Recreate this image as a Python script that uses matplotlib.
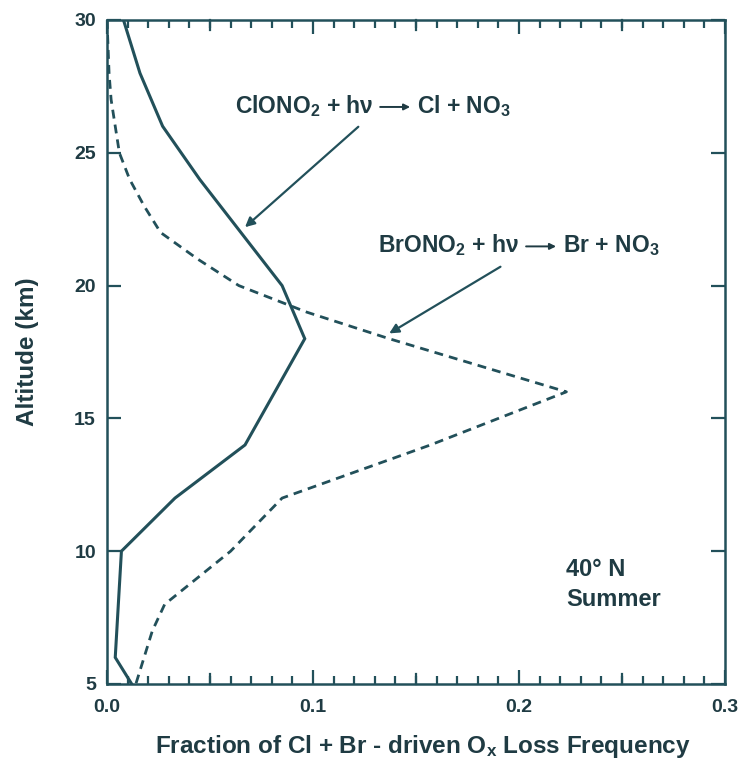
import matplotlib
matplotlib.use("Agg")
import matplotlib.pyplot as plt
from matplotlib.ticker import MultipleLocator

# ClONO2 photolysis contribution (solid)
alt_clono2 = [30, 28, 26, 24, 22, 20, 18, 14, 12, 10, 6, 5]
frac_clono2 = [0.008, 0.016, 0.027, 0.045, 0.065, 0.085, 0.096, 0.067, 0.033, 0.007, 0.004, 0.012]

# BrONO2 photolysis contribution (dashed)
alt_brono2 = [30, 28, 27, 26, 25, 24, 23, 22, 21, 20, 19, 18, 16, 14, 12, 10, 8, 7, 6, 5]
frac_brono2 = [0.0, 0.001, 0.002, 0.004, 0.006, 0.011, 0.018, 0.026, 0.044, 0.064, 0.097, 0.137,
               0.223, 0.157, 0.085, 0.060, 0.028, 0.022, 0.018, 0.014]

x_ticks = [0.0, 0.1, 0.2, 0.3]
x_ticklabels = ["0.0", "0.1", "0.2", "0.3"]
y_ticks = [5, 10, 15, 20, 25, 30]
y_ticklabels = ["5", "10", "15", "20", "25", "30"]

ink = "#22505a"
text_ink = "#1f3b43"
fam = ["Liberation Sans", "DejaVu Sans"]

plt.rcParams["font.family"] = fam
plt.rcParams["font.weight"] = "bold"
plt.rcParams["mathtext.fontset"] = "custom"
plt.rcParams["mathtext.rm"] = "Liberation Sans:bold"
plt.rcParams["mathtext.bf"] = "Liberation Sans:bold"
plt.rcParams["mathtext.it"] = "Liberation Sans:bold"
plt.rcParams["mathtext.default"] = "rm"

fig = plt.figure(figsize=(7.54, 7.65), dpi=100)
ax = fig.add_axes([107 / 754, 1 - 684 / 765, 618 / 754, 664 / 765])

ax.plot(frac_clono2, alt_clono2, color=ink, lw=2.2, solid_joinstyle="miter")
ax.plot(frac_brono2, alt_brono2, color=ink, lw=2.0, dashes=(3.2, 2.2))

ax.set_xlim(0, 0.3)
ax.set_ylim(5, 30)

for s in ax.spines.values():
    s.set_linewidth(1.8)
    s.set_color(ink)

ax.set_xticks(x_ticks)
ax.set_xticklabels(x_ticklabels)
ax.set_yticks(y_ticks)
ax.set_yticklabels(y_ticklabels)
ax.xaxis.set_minor_locator(MultipleLocator(0.01))

ax.tick_params(axis="both", which="both", direction="in", color=ink,
               top=True, right=True, labelcolor=text_ink)
ax.tick_params(axis="x", which="major", length=10, width=1.6, pad=11, labelsize=14)
ax.tick_params(axis="x", which="minor", length=6, width=1.6)
ax.tick_params(axis="y", which="major", length=10, width=1.6, pad=8, labelsize=14)
for lab in ax.get_xticklabels() + ax.get_yticklabels():
    lab.set_fontweight("bold")

# longer ticks at every 0.05 on the x axis
for xv in [0.05, 0.15, 0.25]:
    ax.plot([xv, xv], [5, 5 + 10 * 25 / 664], color=ink, lw=1.6, clip_on=False)
    ax.plot([xv, xv], [30, 30 - 10 * 25 / 664], color=ink, lw=1.6, clip_on=False)

fig.canvas.draw()
renderer = fig.canvas.get_renderer()


def reaction_label(x, y, reactants, products, size=16.5):
    """Write 'reactants -> products' with a drawn reaction arrow."""
    t1 = ax.text(x, y, reactants, fontsize=size, fontweight="bold", color=text_ink,
                 ha="left", va="baseline", family=fam)
    bb = t1.get_window_extent(renderer)
    _, base_y = ax.transData.transform((x, y))
    ax_start = bb.x1 + 7
    ax_end = ax_start + 30
    mid_y = base_y + 6
    ax.annotate("", xy=(ax_end, mid_y), xytext=(ax_start, mid_y),
                xycoords="figure pixels", textcoords="figure pixels",
                arrowprops=dict(arrowstyle="-|>", color=text_ink, lw=1.4,
                                mutation_scale=9, shrinkA=0, shrinkB=0))
    fig.text(ax_end + 7, base_y, products, fontsize=size, fontweight="bold",
             color=text_ink, ha="left", va="baseline", family=fam,
             transform=None)


# reaction labels with pointer arrows
reaction_label(0.062, 26.5, r"ClONO$_2$ + hν", r"Cl + NO$_3$")
ax.annotate("", xy=(0.067, 22.2), xytext=(0.122, 25.98),
            arrowprops=dict(arrowstyle="-|>", color=ink, lw=1.6, mutation_scale=14,
                            shrinkA=0, shrinkB=0))

reaction_label(0.1316, 21.25, r"BrONO$_2$ + hν", r"Br + NO$_3$")
ax.annotate("", xy=(0.137, 18.2), xytext=(0.191, 20.71),
            arrowprops=dict(arrowstyle="-|>", color=ink, lw=1.6, mutation_scale=14,
                            shrinkA=0, shrinkB=0))

ax.text(0.223, 9.32, "40° N", fontsize=17, fontweight="bold", color=text_ink,
        ha="left", va="center", family=fam)
ax.text(0.223, 8.2, "Summer", fontsize=17, fontweight="bold", color=text_ink,
        ha="left", va="center", family=fam)

fig.text(28 / 754, 1 - 352 / 765, "Altitude (km)", rotation=90, fontsize=17.5,
         fontweight="bold", color=text_ink, ha="center", va="center", family=fam)
fig.text(423 / 754, 1 - 747 / 765, r"Fraction of Cl + Br - driven O$_x$ Loss Frequency",
         fontsize=17.5, fontweight="bold", color=text_ink, ha="center", va="center", family=fam)

fig.savefig("out.png", dpi=100, facecolor="white")
